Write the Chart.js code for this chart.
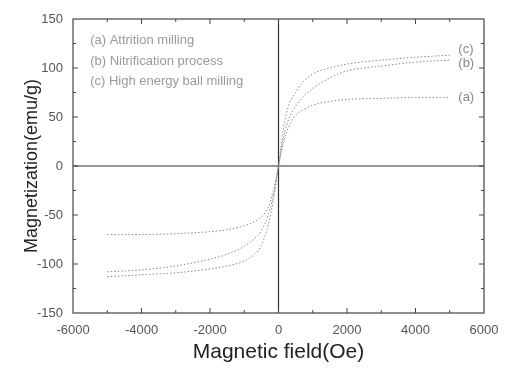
<!DOCTYPE html>
<html>
<head>
<meta charset="utf-8">
<script src="https://cdn.jsdelivr.net/npm/chart.js@4"></script>
<style>
  html, body { margin: 0; padding: 0; background: #fff; }
  #wrap { width: 512px; height: 369px; }
</style>
</head>
<body>
<div id="wrap"><canvas id="chart" width="512" height="369"></canvas></div>
<script>
// field values (Oe)
const field = [-5000, -4000, -3000, -2000, -1500, -1000, -700, -500, -300, -150, 0, 150, 300, 500, 700, 1000, 1500, 2000, 3000, 4000, 5000]
// magnetization (emu/g)
const attrition = [-70, -70, -69, -67, -65, -61, -57, -52, -42, -25, 0, 25, 40, 52, 57, 62, 66, 68, 69, 70, 70]
const nitrification = [-108, -106, -102, -95, -90, -82, -74, -66, -50, -30, 0, 30, 48, 61, 70, 79, 90, 97, 102, 106, 108]
const ballMilling = [-113, -111, -109, -105, -102, -97, -90, -81, -60, -35, 0, 40, 62, 75, 85, 94, 100, 104, 108, 111, 113]

const legendLines = ['(a) Attrition milling', '(b) Nitrification process', '(c) High energy ball milling']
const endLabels = ['(a)', '(b)', '(c)']
const xTicks = [-6000, -4000, -2000, 0, 2000, 4000, 6000]
const yTicks = [-150, -100, -50, 0, 50, 100, 150]

const toPoints = ys => field.map((x, i) => ({ x, y: ys[i] }))

const curve = ys => ({
  data: toPoints(ys),
  showLine: true,
  borderColor: '#8a8a8a',
  borderWidth: 1,
  borderDash: [1.5, 2],
  pointRadius: 0,
  cubicInterpolationMode: 'monotone'
})

// frame, zero lines, inward ticks and text labels
const decor = {
  id: 'decor',
  beforeDatasetsDraw (chart) {
    const { ctx, chartArea: a, scales: { x, y } } = chart
    ctx.save()
    ctx.strokeStyle = '#333'
    ctx.lineWidth = 1.2
    ctx.beginPath()
    ctx.moveTo(a.left, y.getPixelForValue(0))
    ctx.lineTo(a.right, y.getPixelForValue(0))
    ctx.moveTo(x.getPixelForValue(0), a.top)
    ctx.lineTo(x.getPixelForValue(0), a.bottom)
    ctx.stroke()
    ctx.restore()
  },
  afterDatasetsDraw (chart) {
    const { ctx, chartArea: a, scales: { x, y } } = chart
    ctx.save()
    ctx.strokeStyle = '#444'
    ctx.lineWidth = 1.2
    ctx.strokeRect(a.left, a.top, a.right - a.left, a.bottom - a.top)
    ctx.lineWidth = 1
    ctx.beginPath()
    for (let v = -5000; v <= 5000; v += 1000) {
      const px = x.getPixelForValue(v)
      const len = v % 2000 === 0 ? 5 : 3
      ctx.moveTo(px, a.bottom); ctx.lineTo(px, a.bottom - len)
      ctx.moveTo(px, a.top); ctx.lineTo(px, a.top + len)
    }
    for (let v = -125; v <= 125; v += 25) {
      const py = y.getPixelForValue(v)
      const len = v % 50 === 0 ? 5 : 3
      ctx.moveTo(a.left, py); ctx.lineTo(a.left + len, py)
      ctx.moveTo(a.right, py); ctx.lineTo(a.right - len, py)
    }
    ctx.stroke()

    ctx.fillStyle = '#9a9a9a'
    ctx.font = '13px "Liberation Sans", Arial, sans-serif'
    ctx.textBaseline = 'middle'
    legendLines.forEach((t, i) => {
      ctx.fillText(t, x.getPixelForValue(-5500), y.getPixelForValue(128 - i * 21))
    })
    ctx.fillStyle = '#888'
    ctx.font = '13px "Liberation Sans", Arial, sans-serif'
    const ends = [attrition, nitrification, ballMilling]
    const offs = [0, -3, 6]
    endLabels.forEach((t, i) => {
      const last = ends[i][ends[i].length - 1]
      ctx.fillText(t, x.getPixelForValue(5250), y.getPixelForValue(last + offs[i]))
    })
    ctx.restore()
  }
}

new Chart(document.getElementById('chart'), {
  type: 'scatter',
  data: {
    datasets: [curve(attrition), curve(nitrification), curve(ballMilling)]
  },
  options: {
    responsive: false,
    animation: false,
    layout: { padding: { top: 19, right: 28, left: 17, bottom: 0 } },
    plugins: {
      legend: { display: false },
      tooltip: { enabled: false }
    },
    scales: {
      x: {
        type: 'linear',
        min: -6000,
        max: 6000,
        afterBuildTicks: s => { s.ticks = xTicks.map(value => ({ value })) },
        afterFit: s => { s.height = 56 },
        grid: { display: false },
        border: { display: false },
        ticks: { color: '#555', font: { size: 13, family: 'Liberation Sans' }, padding: 2, callback: v => String(v) },
        title: { display: true, text: 'Magnetic field(Oe)', color: '#222', font: { size: 21, family: 'Liberation Sans' }, padding: { top: 2 } }
      },
      y: {
        type: 'linear',
        min: -150,
        max: 150,
        afterBuildTicks: s => { s.ticks = yTicks.map(value => ({ value })) },
        afterFit: s => { s.width = 56 },
        grid: { display: false },
        border: { display: false },
        ticks: { color: '#555', font: { size: 13, family: 'Liberation Sans' }, padding: 2, callback: v => String(v) },
        title: { display: true, text: 'Magnetization(emu/g)', color: '#222', font: { size: 18, family: 'Liberation Sans' }, padding: { bottom: 0 } }
      }
    }
  },
  plugins: [decor]
})
</script>
</body>
</html>
